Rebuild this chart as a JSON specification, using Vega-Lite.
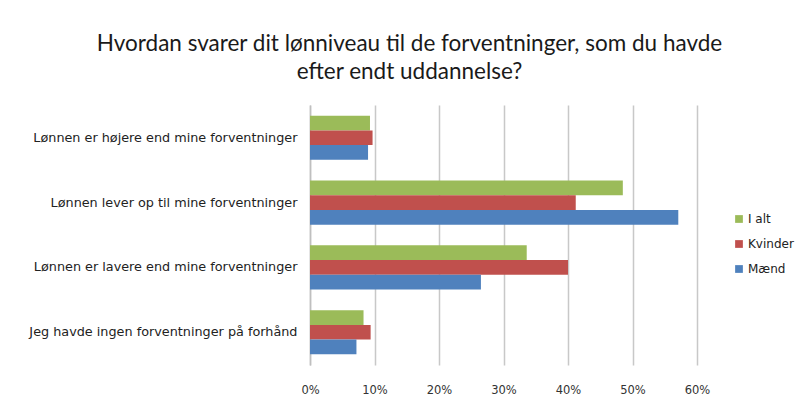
{
  "$schema": "https://vega.github.io/schema/vega-lite/v6.json",
  "autosize": "none",
  "width": 387,
  "height": 260,
  "padding": {"left": 310, "top": 105, "right": 106, "bottom": 43},
  "background": "white",
  "title": {
    "text": ["Hvordan svarer dit lønniveau til de forventninger, som du havde", "efter endt uddannelse?"],
    "font": "Lato",
    "fontSize": 22.5,
    "fontWeight": "normal",
    "color": "#1a1a1a",
    "lineHeight": 28,
    "anchor": "middle",
    "dx": -94,
    "offset": 22
  },
  "data": {
    "values": [
      {"cat": "Lønnen er højere end mine forventninger", "serie": "I alt", "v": 0.093},
      {"cat": "Lønnen er højere end mine forventninger", "serie": "Kvinder", "v": 0.097},
      {"cat": "Lønnen er højere end mine forventninger", "serie": "Mænd", "v": 0.09},
      {"cat": "Lønnen lever op til mine forventninger", "serie": "I alt", "v": 0.485},
      {"cat": "Lønnen lever op til mine forventninger", "serie": "Kvinder", "v": 0.412},
      {"cat": "Lønnen lever op til mine forventninger", "serie": "Mænd", "v": 0.571},
      {"cat": "Lønnen er lavere end mine forventninger", "serie": "I alt", "v": 0.336},
      {"cat": "Lønnen er lavere end mine forventninger", "serie": "Kvinder", "v": 0.4},
      {"cat": "Lønnen er lavere end mine forventninger", "serie": "Mænd", "v": 0.265},
      {"cat": "Jeg havde ingen forventninger på forhånd", "serie": "I alt", "v": 0.083},
      {"cat": "Jeg havde ingen forventninger på forhånd", "serie": "Kvinder", "v": 0.094},
      {"cat": "Jeg havde ingen forventninger på forhånd", "serie": "Mænd", "v": 0.072}
    ]
  },
  "mark": {"type": "bar"},
  "encoding": {
    "y": {
      "field": "cat",
      "type": "nominal",
      "sort": ["Lønnen er højere end mine forventninger", "Lønnen lever op til mine forventninger", "Lønnen er lavere end mine forventninger", "Jeg havde ingen forventninger på forhånd"],
      "scale": {"paddingInner": 0.32, "paddingOuter": 0.165},
      "axis": {
        "title": null,
        "ticks": false,
        "domainColor": "#bfbfbf",
        "domainWidth": 1.5,
        "labelFont": "DejaVu Sans",
        "labelFontSize": 12.8,
        "labelColor": "#222222",
        "labelPadding": 13,
        "labelLimit": 320
      }
    },
    "yOffset": {"field": "serie", "type": "nominal", "sort": ["I alt", "Kvinder", "Mænd"]},
    "x": {
      "field": "v",
      "type": "quantitative",
      "scale": {"domain": [0, 0.6], "nice": false},
      "axis": {
        "title": null,
        "format": ".0%",
        "values": [0, 0.1, 0.2, 0.3, 0.4, 0.5, 0.6],
        "domain": false,
        "ticks": false,
        "grid": true,
        "gridColor": "#c8c8c8",
        "gridWidth": 1.5,
        "labelFlush": false,
        "labelFont": "DejaVu Sans",
        "labelFontSize": 11.5,
        "labelColor": "#333333",
        "labelPadding": 19
      }
    },
    "color": {
      "field": "serie",
      "type": "nominal",
      "sort": ["I alt", "Kvinder", "Mænd"],
      "scale": {"domain": ["I alt", "Kvinder", "Mænd"], "range": ["#9BBB59", "#C0504D", "#4F81BD"]},
      "legend": {
        "title": null,
        "orient": "none",
        "legendX": 423,
        "legendY": 108,
        "symbolType": "square",
        "symbolSize": 60,
        "symbolStrokeWidth": 0,
        "labelFont": "DejaVu Sans",
        "labelFontSize": 12,
        "labelColor": "#222222",
        "rowPadding": 13,
        "labelOffset": 3
      }
    }
  },
  "config": {"view": {"stroke": null}}
}
